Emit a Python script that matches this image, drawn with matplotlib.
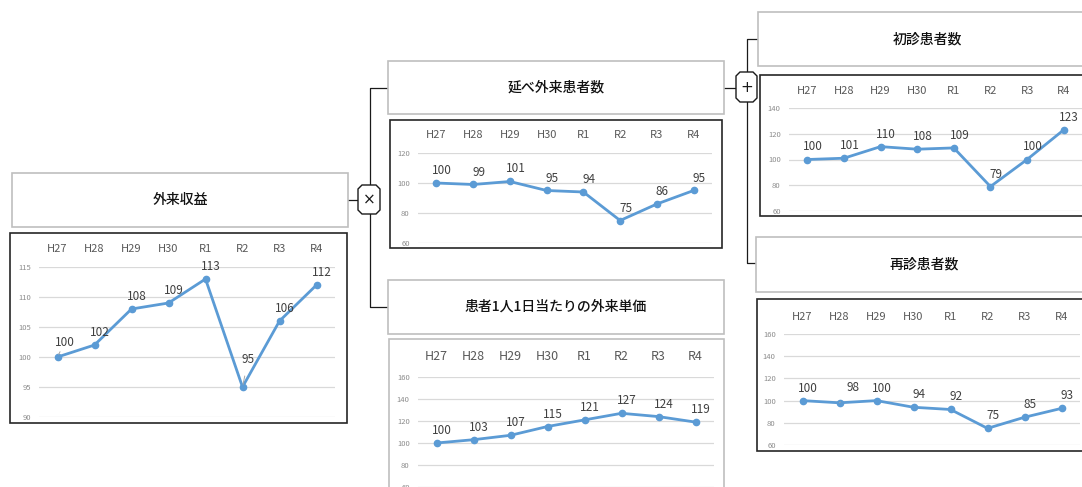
import matplotlib
matplotlib.use("Agg")
import matplotlib.pyplot as plt
from matplotlib.patches import Rectangle, Polygon
from matplotlib.lines import Line2D

plt.rcParams['font.family'] = ['Noto Sans CJK JP', 'DejaVu Sans']

# ---- data ----
years = ["H27", "H28", "H29", "H30", "R1", "R2", "R3", "R4"]

title_revenue = "外来収益"
title_visits = "延べ外来患者数"
title_unit = "患者1人1日当たりの外来単価"
title_new = "初診患者数"
title_repeat = "再診患者数"

revenue = [100, 102, 108, 109, 113, 95, 106, 112]
visits = [100, 99, 101, 95, 94, 75, 86, 95]
unit_price = [100, 103, 107, 115, 121, 127, 124, 119]
new_patients = [100, 101, 110, 108, 109, 79, 100, 123]
repeat_patients = [100, 98, 100, 94, 92, 75, 85, 93]

revenue_ticks = [90, 95, 100, 105, 110, 115]
visits_ticks = [60, 80, 100, 120]
unit_ticks = [60, 80, 100, 120, 140, 160]
new_ticks = [60, 80, 100, 120, 140]
repeat_ticks = [60, 80, 100, 120, 140, 160]

# ---- figure in pixel units ----
W, H = 1082, 487
fig = plt.figure(figsize=(W / 100, H / 100), dpi=100)
fig.patch.set_facecolor("white")

LINE_C = "#5b9bd5"
GRID_C = "#d9d9d9"


def fx(x):
    return x / W


def fy(y):
    return 1 - y / H


def rect(x0, y0, x1, y1, ec, lw=1.0):
    fig.add_artist(Rectangle((fx(x0), fy(y1)), fx(x1) - fx(x0), fy(y0) - fy(y1),
                             transform=fig.transFigure, fill=True, facecolor="white",
                             edgecolor=ec, linewidth=lw, clip_on=False, zorder=1))


def seg(pts):
    xs = [fx(p[0]) for p in pts]
    ys = [fy(p[1]) for p in pts]
    fig.add_artist(Line2D(xs, ys, transform=fig.transFigure, color="#1a1a1a",
                          lw=0.9, zorder=1))


def node(x0, y0, x1, y1, sym):
    c = 4
    pts = [(x0 + c, y0), (x1 - c, y0), (x1, y0 + c), (x1, y1 - c),
           (x1 - c, y1), (x0 + c, y1), (x0, y1 - c), (x0, y0 + c)]
    fig.add_artist(Polygon([(fx(a), fy(b)) for a, b in pts], closed=True,
                           transform=fig.transFigure, facecolor="white",
                           edgecolor="#1a1a1a", lw=1.0, zorder=3))
    fig.text(fx((x0 + x1) / 2), fy((y0 + y1) / 2), sym, ha="center", va="center",
             fontsize=11, color="#1a1a1a", family=["DejaVu Sans"], zorder=4)


def title_box(x0, y0, x1, y1, text, cx=None):
    rect(x0, y0, x1, y1, "#bfbfbf", 1.2)
    if cx is None:
        cx = (x0 + x1) / 2
    fig.text(fx(cx), fy((y0 + y1) / 2), text, ha="center", va="center",
             fontsize=10, color="#111111", fontweight="medium", zorder=4)


def chart(box, area, values, ticks, ec="#262626", cat_size=8, cat_pad=9,
          label_offsets=None):
    bx0, by0, bx1, by1 = box
    rect(bx0, by0, bx1, by1, ec, 1.2)
    ax0, ay0, ax1, ay1 = area
    ax = fig.add_axes([fx(ax0), fy(ay1), fx(ax1) - fx(ax0), fy(ay0) - fy(ay1)])
    ax.set_zorder(2)
    ax.patch.set_alpha(0)
    x = list(range(len(years)))
    ax.plot(x, values, color=LINE_C, lw=2.0, marker="o", ms=4.5, zorder=3,
            solid_joinstyle="round", clip_on=False)
    label_offsets = label_offsets or {}
    for i, v in zip(x, values):
        off = label_offsets.get(i, (4, 9))
        leader = i in label_offsets
        ax.annotate(str(v), (i, v), xytext=off, textcoords="offset points",
                    ha="center", va="center", fontsize=8.5, color="#404040",
                    arrowprops=dict(arrowstyle="-", color="#a6a6a6", lw=0.7,
                                    shrinkA=5, shrinkB=2) if leader else None)
    ax.set_xlim(-0.5, len(years) - 0.5)
    ax.set_ylim(ticks[0], ticks[-1])
    ax.set_yticks(ticks)
    ax.set_yticklabels([str(t) for t in ticks])
    ax.set_xticks(x)
    ax.set_xticklabels(years)
    ax.xaxis.set_ticks_position("top")
    ax.tick_params(axis="x", length=0, pad=cat_pad, labelsize=cat_size,
                   labelcolor="#595959")
    ax.tick_params(axis="y", length=0, pad=6, labelsize=5.5, labelcolor="#8c8c8c")
    ax.grid(axis="y", color=GRID_C, lw=0.9)
    ax.set_axisbelow(True)
    for s in ax.spines.values():
        s.set_visible(False)
    return ax


# ---- connectors ----
seg([(348, 200), (358, 200)])
seg([(388, 88), (370, 88), (370, 185)])
seg([(370, 214), (370, 307), (388, 307)])
seg([(724, 88), (736, 88)])
seg([(758, 39), (747, 39), (747, 72)])
seg([(747, 102), (747, 263), (756, 263)])

# ---- panels ----
title_box(12, 173, 348, 227, title_revenue)
chart((10, 233, 347, 423), (39, 267, 335, 417), revenue, revenue_ticks,
      label_offsets={0: (5, 10.5), 5: (4, 19.5)})

title_box(388, 61, 724, 114, title_visits)
chart((390, 120, 722, 248), (418, 153, 712, 243), visits, visits_ticks)

title_box(388, 280, 724, 334, title_unit)
chart((389, 339, 724, 500), (418, 377, 714, 487), unit_price, unit_ticks,
      ec="#bfbfbf", cat_size=9, cat_pad=10)

title_box(758, 12, 1100, 66, title_new, cx=927)
chart((760, 75, 1100, 216), (789, 108, 1082, 211), new_patients, new_ticks)

title_box(756, 237, 1100, 292, title_repeat, cx=924)
chart((757, 299, 1100, 451), (784, 334, 1080, 445), repeat_patients, repeat_ticks,
      label_offsets={1: (10, 11)})

node(358, 185, 380, 214, "×")
node(736, 72, 757, 102, "+")

fig.savefig("out.png", dpi=100, facecolor="white")
